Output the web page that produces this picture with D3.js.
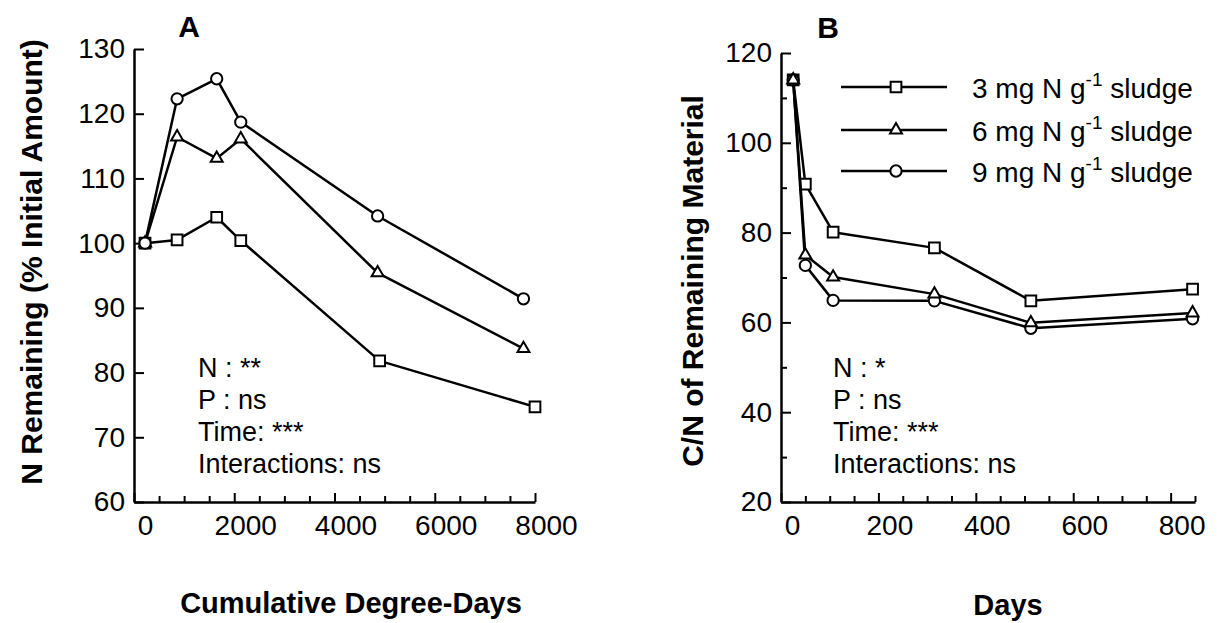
<!DOCTYPE html>
<html>
<head>
<meta charset="utf-8">
<script src="https://cdn.jsdelivr.net/npm/d3@7"></script>
<style>
  body { margin: 0; background: #fff; }
  svg text { font-family: "Liberation Sans", Arial, sans-serif; fill: #000; }
</style>
</head>
<body>
<script>
(function () {

    // ---- data, panel A (N remaining vs cumulative degree-days) ----
    const degreeDaysA = [220, 860, 1650, 2130, 4860, 7770];
    const degreeDaysA3 = [220, 860, 1650, 2130, 4900, 8000];
    const nRemaining3 = [100, 100.5, 104.0, 100.4, 81.8, 74.7];
    const nRemaining6 = [100, 116.4, 113.1, 116.1, 95.4, 83.7];
    const nRemaining9 = [100, 122.3, 125.4, 118.7, 104.2, 91.4];

    // ---- data, panel B (C/N vs days) ----
    const daysB = [25, 50, 107, 315, 513, 845];
    const cn3 = [114, 90.8, 80.1, 76.6, 64.8, 67.4];
    const cn6 = [114, 75.0, 70.1, 66.3, 59.9, 62.1];
    const cn9 = [114, 72.7, 64.9, 64.8, 58.7, 60.8];

    const legendRates = ['3', '6', '9'];
    const statsA = ['N : **', 'P : ns', 'Time: ***', 'Interactions: ns'];
    const statsB = ['N : *', 'P : ns', 'Time: ***', 'Interactions: ns'];

    const ticksAx = [0, 2000, 4000, 6000, 8000];
    const ticksAy = [60, 70, 80, 90, 100, 110, 120, 130];
    const ticksBx = [0, 200, 400, 600, 800];
    const ticksBy = [20, 40, 60, 80, 100, 120];

    const svg = d3.select('body')
        .append('svg')
        .attr('width', 1223)
        .attr('height', 623);

    const xA = d3.scaleLinear().domain([0, 8000]).range([134, 535]);
    const yA = d3.scaleLinear().domain([60, 130]).range([502, 49]);
    const xB = d3.scaleLinear().domain([0, 850]).range([781, 1195]);
    const yB = d3.scaleLinear().domain([20, 120]).range([502, 53]);

    const shapes = {
        square: d3.symbol().type(d3.symbolSquare).size(115),
        triangle: d3.symbol().type(d3.symbolTriangle).size(62),
        circle: d3.symbol().type(d3.symbolCircle).size(100)
    };

    const fmt = d3.format('d');

    function styleAxis(g, fontSize) {
        g.select('.domain').attr('stroke', '#000').attr('stroke-width', 2.5);
        g.selectAll('.tick line').attr('stroke', '#000').attr('stroke-width', 2);
        g.attr('font-size', fontSize).attr('font-family', null);
    }

    function drawAxes(x, y, xTicks, xMinor, yTicks, yMinor) {
        const x0 = x.range()[0], y0 = y.range()[0];

        // minor ticks first
        if (xMinor.length) {
            svg.append('g')
                .attr('transform', 'translate(0,' + y0 + ')')
                .call(d3.axisBottom(x).tickValues(xMinor).tickSizeInner(-6).tickSizeOuter(0).tickFormat(''))
                .call(g => { styleAxis(g, 0); g.select('.domain').remove(); });
        }
        if (yMinor.length) {
            svg.append('g')
                .attr('transform', 'translate(' + x0 + ',0)')
                .call(d3.axisLeft(y).tickValues(yMinor).tickSizeInner(-6).tickSizeOuter(0).tickFormat(''))
                .call(g => { styleAxis(g, 0); g.select('.domain').remove(); });
        }

        svg.append('g')
            .attr('transform', 'translate(0,' + y0 + ')')
            .call(d3.axisBottom(x).tickValues(xTicks).tickFormat(fmt).tickSizeInner(-9).tickSizeOuter(0).tickPadding(13))
            .call(g => {
                styleAxis(g, 28);
                g.selectAll('.tick text').attr('dx', 11);
            });

        svg.append('g')
            .attr('transform', 'translate(' + x0 + ',0)')
            .call(d3.axisLeft(y).tickValues(yTicks).tickFormat(fmt).tickSizeInner(-10).tickSizeOuter(0).tickPadding(9))
            .call(g => styleAxis(g, 28));
    }

    function minorTicks(start, stop, step, major) {
        return d3.range(start, stop + 1, step).filter(v => major.indexOf(v) < 0);
    }

    drawAxes(xA, yA, ticksAx, minorTicks(0, 8000, 500, ticksAx), ticksAy, []);
    drawAxes(xB, yB, ticksBx, minorTicks(0, 850, 50, ticksBx), ticksBy, minorTicks(20, 120, 10, ticksBy));

    function drawSeries(x, y, xs, ys, shape) {
        const pts = xs.map((d, i) => [x(d), y(ys[i])]);
        svg.append('path')
            .attr('d', d3.line()(pts))
            .attr('fill', 'none')
            .attr('stroke', '#000')
            .attr('stroke-width', 2.5)
            .attr('stroke-linejoin', 'round');
        svg.append('g').selectAll('path')
            .data(pts)
            .join('path')
            .attr('transform', d => 'translate(' + d[0] + ',' + d[1] + ')')
            .attr('d', shapes[shape])
            .attr('fill', '#fff')
            .attr('stroke', '#000')
            .attr('stroke-width', 2);
    }

    drawSeries(xA, yA, degreeDaysA3, nRemaining3, 'square');
    drawSeries(xA, yA, degreeDaysA, nRemaining6, 'triangle');
    drawSeries(xA, yA, degreeDaysA, nRemaining9, 'circle');

    drawSeries(xB, yB, daysB, cn3, 'square');
    drawSeries(xB, yB, daysB, cn9, 'circle');
    drawSeries(xB, yB, daysB, cn6, 'triangle');

    // panel letters
    svg.append('text').attr('x', 189).attr('y', 37).attr('text-anchor', 'middle')
        .attr('font-size', 30).attr('font-weight', 'bold').text('A');
    svg.append('text').attr('x', 828).attr('y', 38).attr('text-anchor', 'middle')
        .attr('font-size', 30).attr('font-weight', 'bold').text('B');

    // axis titles
    svg.append('text').attr('x', 351).attr('y', 613).attr('text-anchor', 'middle')
        .attr('font-size', 29).attr('font-weight', 'bold').text('Cumulative Degree-Days');
    svg.append('text').attr('x', 1008).attr('y', 615).attr('text-anchor', 'middle')
        .attr('font-size', 29).attr('font-weight', 'bold').text('Days');
    svg.append('text').attr('transform', 'translate(42,262) rotate(-90)').attr('text-anchor', 'middle')
        .attr('font-size', 30).attr('font-weight', 'bold').text('N Remaining (% Initial Amount)');
    svg.append('text').attr('transform', 'translate(703,281) rotate(-90)').attr('text-anchor', 'middle')
        .attr('font-size', 30).attr('font-weight', 'bold').text('C/N of Remaining Material');

    // statistics blocks
    function drawStats(lines, x) {
        svg.append('g').selectAll('text')
            .data(lines)
            .join('text')
            .attr('x', x)
            .attr('y', (d, i) => 377 + i * 32)
            .attr('font-size', 27)
            .text(d => d);
    }
    drawStats(statsA, 198);
    drawStats(statsB, 833);

    // legend
    const legendShapes = ['square', 'triangle', 'circle'];
    const legendRows = [87, 130, 171];
    const legend = svg.append('g');
    legendRates.forEach((rate, i) => {
        const ly = legendRows[i];
        legend.append('line').attr('x1', 841).attr('x2', 947).attr('y1', ly).attr('y2', ly)
            .attr('stroke', '#000').attr('stroke-width', 2.5);
        legend.append('path').attr('transform', 'translate(896,' + ly + ')')
            .attr('d', shapes[legendShapes[i]])
            .attr('fill', '#fff').attr('stroke', '#000').attr('stroke-width', 2);
        const t = legend.append('text').attr('x', 972).attr('y', ly + 11).attr('font-size', 28);
        t.append('tspan').text(rate + ' mg N g');
        t.append('tspan').attr('dy', -12).attr('font-size', 19).text('-1');
        t.append('tspan').attr('dy', 12).text(' sludge');
    });

})();
</script>
</body>
</html>
